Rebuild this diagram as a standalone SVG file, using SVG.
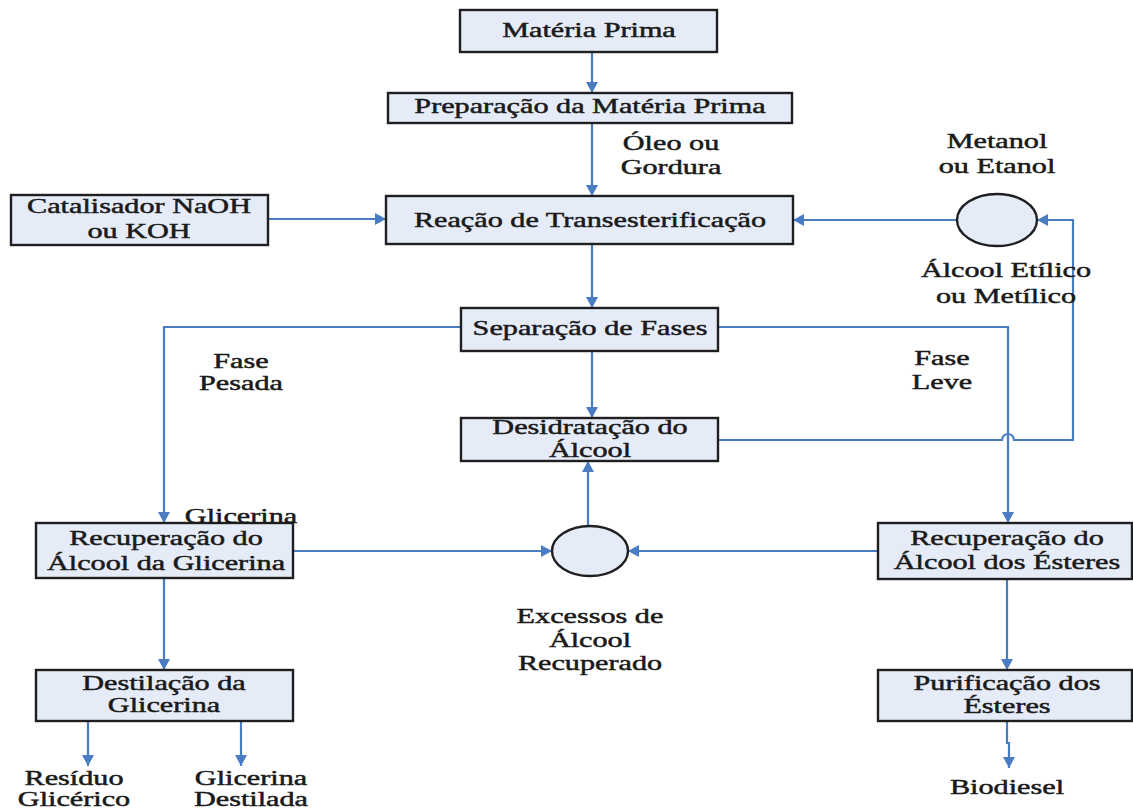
<svg xmlns="http://www.w3.org/2000/svg" width="1133" height="809" viewBox="0 0 1133 809">
<defs>
<marker id="ah" markerUnits="userSpaceOnUse" markerWidth="12" markerHeight="12" refX="11" refY="6" orient="auto">
<path d="M0,0 L11,6 L0,12 z" fill="#4a7cc4"/>
</marker>
<style>
.box{fill:#e6ecf7;stroke:#1f1f1f;stroke-width:2.4}
.con{fill:none;stroke:#4a7cc4;stroke-width:2.2}
.arr{marker-end:url(#ah)}
text{font-family:"Liberation Serif","Times New Roman",serif;font-size:20px;fill:#1a1a1a;stroke:#1a1a1a;stroke-width:0.45;text-anchor:middle}
</style>
</defs>
<rect width="1133" height="809" fill="#ffffff"/>
<g id="connectors">
<path class="con arr" d="M592,52 V93"/>
<path class="con arr" d="M592,123 V196"/>
<path class="con arr" d="M268,219 H386"/>
<path class="con arr" d="M957,220 H793"/>
<path class="con arr" d="M592,244 V308"/>
<path class="con arr" d="M461,327 H164 V523"/>
<path class="con arr" d="M718,327 H1008 V523"/>
<path class="con arr" d="M592,351 V418"/>
<path class="con arr" d="M718,440 H1002 A6,6 0 0 1 1014,440 H1073 V220 H1037"/>
<path class="con arr" d="M293,551 H552"/>
<path class="con arr" d="M878,551 H628"/>
<path class="con arr" d="M588,526 V461"/>
<path class="con arr" d="M164,578 V670"/>
<path class="con arr" d="M1007,579 V670"/>
<path class="con arr" d="M88,721 V766"/>
<path class="con arr" d="M241,721 V766"/>
<path class="con arr" d="M1007,721 V743 H1009 V768"/>
</g>
<g id="n1"><rect class="box" x="460" y="10" width="257" height="42"/>
<text transform="translate(589,0) scale(1.51,1)"><tspan x="0" y="37">Matéria Prima</tspan></text></g>
<g id="n2"><rect class="box" x="388" y="93" width="404" height="30"/>
<text transform="translate(590,0) scale(1.51,1)"><tspan x="0" y="113">Preparação da Matéria Prima</tspan></text></g>
<g id="lbl-oleo"><text transform="translate(671,0) scale(1.51,1)"><tspan x="0" y="150">Óleo ou</tspan><tspan x="0" y="174">Gordura</tspan></text></g>
<g id="n3"><rect class="box" x="386" y="196" width="407" height="48"/>
<text transform="translate(590,0) scale(1.51,1)"><tspan x="0" y="227">Reação de Transesterificação</tspan></text></g>
<g id="n4"><rect class="box" x="11" y="195" width="257" height="50"/>
<text transform="translate(139,0) scale(1.51,1)"><tspan x="0" y="213">Catalisador NaOH</tspan><tspan x="0" y="238">ou KOH</tspan></text></g>
<g id="n5"><ellipse class="box" cx="997" cy="220" rx="40" ry="26"/>
<text transform="translate(997,0) scale(1.51,1)"><tspan x="0" y="148">Metanol</tspan><tspan x="0" y="173">ou Etanol</tspan></text>
<text transform="translate(1006,0) scale(1.51,1)"><tspan x="0" y="277">Álcool Etílico</tspan><tspan x="0" y="303">ou Metílico</tspan></text></g>
<g id="n6"><rect class="box" x="461" y="308" width="257" height="43"/>
<text transform="translate(590,0) scale(1.51,1)"><tspan x="0" y="335">Separação de Fases</tspan></text></g>
<g id="lbl-pesada"><text transform="translate(241,0) scale(1.51,1)"><tspan x="0" y="368">Fase</tspan><tspan x="0" y="390">Pesada</tspan></text></g>
<g id="lbl-leve"><text transform="translate(942,0) scale(1.51,1)"><tspan x="0" y="365">Fase</tspan><tspan x="0" y="389">Leve</tspan></text></g>
<g id="n7"><rect class="box" x="461" y="418" width="257" height="43"/>
<text transform="translate(590,0) scale(1.51,1)"><tspan x="0" y="434">Desidratação do</tspan><tspan x="0" y="457">Álcool</tspan></text></g>
<g id="n8"><rect class="box" x="36" y="523" width="257" height="55"/>
<text transform="translate(166,0) scale(1.51,1)"><tspan x="0" y="545">Recuperação do</tspan><tspan x="0" y="570">Álcool da Glicerina</tspan></text></g>
<g id="lbl-glicerina"><text transform="translate(241,0) scale(1.51,1)"><tspan x="0" y="523">Glicerina</tspan></text></g>
<g id="n9"><ellipse class="box" cx="590" cy="551" rx="38" ry="25"/>
<text transform="translate(590,0) scale(1.51,1)"><tspan x="0" y="623">Excessos de</tspan><tspan x="0" y="647">Álcool</tspan><tspan x="0" y="670">Recuperado</tspan></text></g>
<g id="n10"><rect class="box" x="878" y="523" width="254" height="56"/>
<text transform="translate(1007,0) scale(1.51,1)"><tspan x="0" y="545">Recuperação do</tspan><tspan x="0" y="569">Álcool dos Ésteres</tspan></text></g>
<g id="n11"><rect class="box" x="36" y="670" width="257" height="51"/>
<text transform="translate(164,0) scale(1.51,1)"><tspan x="0" y="690">Destilação da</tspan><tspan x="0" y="712">Glicerina</tspan></text></g>
<g id="n12"><rect class="box" x="878" y="670" width="254" height="51"/>
<text transform="translate(1007,0) scale(1.51,1)"><tspan x="0" y="690">Purificação dos</tspan><tspan x="0" y="713">Ésteres</tspan></text></g>
<g id="out1"><text transform="translate(74,0) scale(1.51,1)"><tspan x="0" y="785">Resíduo</tspan><tspan x="0" y="806">Glicérico</tspan></text></g>
<g id="out2"><text transform="translate(251,0) scale(1.51,1)"><tspan x="0" y="785">Glicerina</tspan><tspan x="0" y="806">Destilada</tspan></text></g>
<g id="out3"><text transform="translate(1007,0) scale(1.51,1)"><tspan x="0" y="794">Biodiesel</tspan></text></g>
</svg>
